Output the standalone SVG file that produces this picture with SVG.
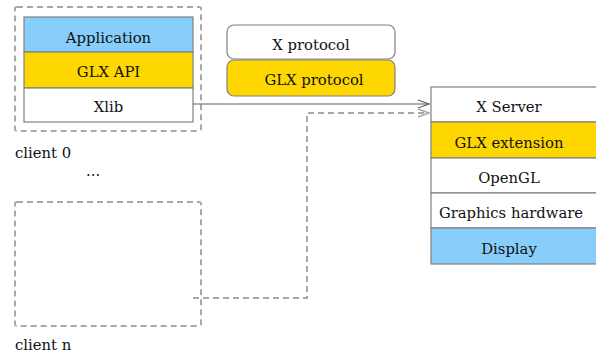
<svg xmlns="http://www.w3.org/2000/svg" width="596" height="358" viewBox="0 0 596 358">
<style>
text{font-family:"DejaVu Serif","Liberation Serif",serif;font-size:14.8px;fill:#111}
.c{text-anchor:middle}
.row{stroke:#808080;stroke-width:1.2}
.blue{fill:#87cefa}
.gold{fill:#ffd700}
.white{fill:#fff}
.dash{fill:none;stroke:#a8a8a8;stroke-width:2;stroke-dasharray:6,4}
.conn{fill:none;stroke:#606060;stroke-width:1.2}
.conn2{fill:none;stroke:#a8a8a8;stroke-width:2;stroke-dasharray:6,4}
</style>
<defs>
<marker id="arr" markerWidth="14" markerHeight="10" refX="12" refY="5" orient="auto" markerUnits="userSpaceOnUse">
<path d="M1,1 L12,5 L1,9" fill="none" stroke="#606060" stroke-width="1.2"/>
</marker>
</defs>
<rect width="596" height="358" fill="#fff"/>
<g id="client0">
<rect class="dash" x="15" y="7" width="186" height="124" rx="2"/>
<rect class="row blue" x="24" y="17" width="169" height="35"/>
<text class="c" x="108.5" y="43">Application</text>
<rect class="row gold" x="24" y="52" width="169" height="36"/>
<text class="c" x="108.5" y="77">GLX API</text>
<rect class="row white" x="24" y="88" width="169" height="34"/>
<text class="c" x="108.5" y="112">Xlib</text>
<text x="15" y="158">client 0</text>
<text x="86" y="176">...</text>
</g>
<g id="clientn">
<rect class="dash" x="15" y="202" width="186" height="124" rx="2"/>
<text x="15" y="350">client n</text>
</g>
<g id="protocols">
<rect class="row white" x="227" y="25" width="168" height="34" rx="7"/>
<text class="c" x="311" y="50">X protocol</text>
<rect class="row gold" x="227" y="60" width="168" height="36" rx="7"/>
<text class="c" x="314" y="85">GLX protocol</text>
</g>
<g id="server">
<rect class="row white" x="431" y="87" width="170" height="35"/>
<text class="c" x="509" y="112">X Server</text>
<rect class="row gold" x="431" y="122" width="170" height="36"/>
<text class="c" x="509" y="148">GLX extension</text>
<rect class="row white" x="431" y="158" width="170" height="35"/>
<text class="c" x="509" y="183">OpenGL</text>
<rect class="row white" x="431" y="193" width="170" height="35"/>
<text class="c" x="511" y="218">Graphics hardware</text>
<rect class="row blue" x="431" y="228" width="170" height="36"/>
<text class="c" x="509" y="254">Display</text>
</g>
<g id="connectors">
<path class="conn" d="M193,104 L429,104" marker-end="url(#arr)"/>
<path class="conn2" d="M193,298 L307,298 L307,113 L429,113"/>
<path d="M418,109 L429,113 L418,117" fill="none" stroke="#a8a8a8" stroke-width="1.5"/>
</g>
</svg>
